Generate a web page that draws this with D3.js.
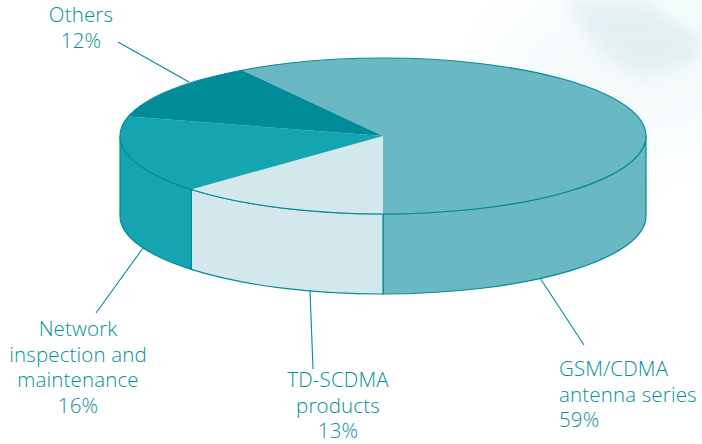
<!DOCTYPE html>
<html>
<head>
<meta charset="utf-8">
<script src="https://cdnjs.cloudflare.com/ajax/libs/d3/7.8.5/d3.min.js"></script>
<style>
  html, body { margin: 0; padding: 0; background: #fff; }
  svg { display: block; }
  text { font-family: "Open Sans", "Noto Sans", sans-serif; font-weight: 300; font-size: 20.5px; letter-spacing: 0.15px; fill: #058f9d; }
</style>
</head>
<body>
<svg id="chart" width="702" height="444"></svg>
<script>
// Revenue mix by product line
const categories = ["GSM/CDMA antenna series", "TD-SCDMA products", "Network inspection and maintenance", "Others"];
const shares = [59, 13, 16, 12];
const sliceColors = ["#6ab8c3", "#d3e8ec", "#15a5b0", "#008b99"];
const edgeColor = "#008b99";
const labelLines = [
  ["GSM/CDMA", "antenna series", "59%"],
  ["TD-SCDMA", "products", "13%"],
  ["Network", "inspection and", "maintenance", "16%"],
  ["Others", "12%"]
];
const labelAnchors = ["start", "middle", "middle", "middle"];
const labelX = [559, 338, 78, 81];
const labelY = [376, 387, 336, 22];
const leaderEnds = [
  [[540, 278], [584, 345]],
  [[310, 290], [313, 369]],
  [[143, 248], [96, 313]],
  [[189, 82], [118, 42]]
];

const cx = 383, cy = 136, rx = 263, ry = 78, depth = 80;
const svg = d3.select("#chart");

// Faint watercolour wash in the upper right corner
const defs = svg.append("defs");
defs.append("filter").attr("id", "soft").attr("x", "-20%").attr("y", "-20%").attr("width", "140%").attr("height", "140%")
  .append("feGaussianBlur").attr("stdDeviation", 8);
defs.append("filter").attr("id", "softer").attr("x", "-30%").attr("y", "-30%").attr("width", "160%").attr("height", "160%")
  .append("feGaussianBlur").attr("stdDeviation", 24);
const wash = svg.append("g");
wash.append("ellipse").attr("cx", 630).attr("cy", 70).attr("rx", 140).attr("ry", 90)
  .attr("fill", "#f0f8fa").attr("opacity", 0.6).attr("filter", "url(#softer)");
wash.append("path")
  .attr("d", "M565,0 C585,30 600,62 640,76 C665,78 680,64 702,56 L702,34 C680,28 665,10 640,0 Z")
  .attr("fill", "#d6e9ed").attr("opacity", 0.6).attr("filter", "url(#soft)");
wash.append("path")
  .attr("d", "M650,0 C670,15 685,28 702,32 L702,0 Z")
  .attr("fill", "#f2f9fa").attr("opacity", 0.9);
wash.append("path")
  .attr("d", "M672,72 C685,70 695,62 702,58 L702,66 C695,72 684,76 672,72 Z")
  .attr("fill", "#f4fafb").attr("opacity", 0.7);

// Slices start in the upper left and run clockwise
const startAngle = -32.4 * Math.PI / 180;
const pie = d3.pie().sort(null).startAngle(startAngle).endAngle(startAngle + 2 * Math.PI);
const arcs = pie(shares);

const px = a => cx + rx * Math.sin(a);
const py = a => cy - ry * Math.cos(a);

// Outer wall: only the part of each slice between 90° and 270° faces the viewer
const wallPath = (a0, a1) => {
  const s = Math.max(a0, Math.PI / 2), e = Math.min(a1, 3 * Math.PI / 2);
  if (e <= s) return null;
  const large = e - s > Math.PI ? 1 : 0;
  return `M${px(s)},${py(s)} A${rx},${ry} 0 ${large} 1 ${px(e)},${py(e)}` +
         ` L${px(e)},${py(e) + depth} A${rx},${ry} 0 ${large} 0 ${px(s)},${py(s) + depth} Z`;
};

const walls = svg.append("g");
arcs.forEach((d, i) => {
  // The first and last slices may wrap past the full turn, so test both windings
  [0, 2 * Math.PI].forEach(shift => {
    const p = wallPath(d.startAngle + shift, d.endAngle + shift);
    if (p) walls.append("path").attr("d", p)
      .attr("fill", sliceColors[i]).attr("stroke", edgeColor).attr("stroke-width", 1.2)
      .attr("stroke-linejoin", "round");
  });
});

// Top face: a flat pie squashed into the ellipse
const arcGen = d3.arc().innerRadius(0).outerRadius(rx);
svg.append("g")
  .attr("transform", `translate(${cx},${cy}) scale(1,${ry / rx})`)
  .selectAll("path").data(arcs).join("path")
  .attr("d", arcGen)
  .attr("fill", (d, i) => sliceColors[i])
  .attr("stroke", "none");

// Rim line of the top face
svg.append("ellipse").attr("cx", cx).attr("cy", cy).attr("rx", rx).attr("ry", ry)
  .attr("fill", "none").attr("stroke", edgeColor).attr("stroke-width", 1.1);

// Leader lines
svg.append("g").selectAll("line").data(leaderEnds).join("line")
  .attr("x1", d => d[0][0]).attr("y1", d => d[0][1])
  .attr("x2", d => d[1][0]).attr("y2", d => d[1][1])
  .attr("stroke", edgeColor).attr("stroke-width", 1.1);

// Category labels
labelLines.forEach((lines, i) => {
  svg.append("text")
    .attr("text-anchor", labelAnchors[i])
    .selectAll("tspan").data(lines).join("tspan")
    .attr("x", labelX[i])
    .attr("y", (d, j) => labelY[i] + j * 25.7)
    .text(d => d);
});
</script>
</body>
</html>
